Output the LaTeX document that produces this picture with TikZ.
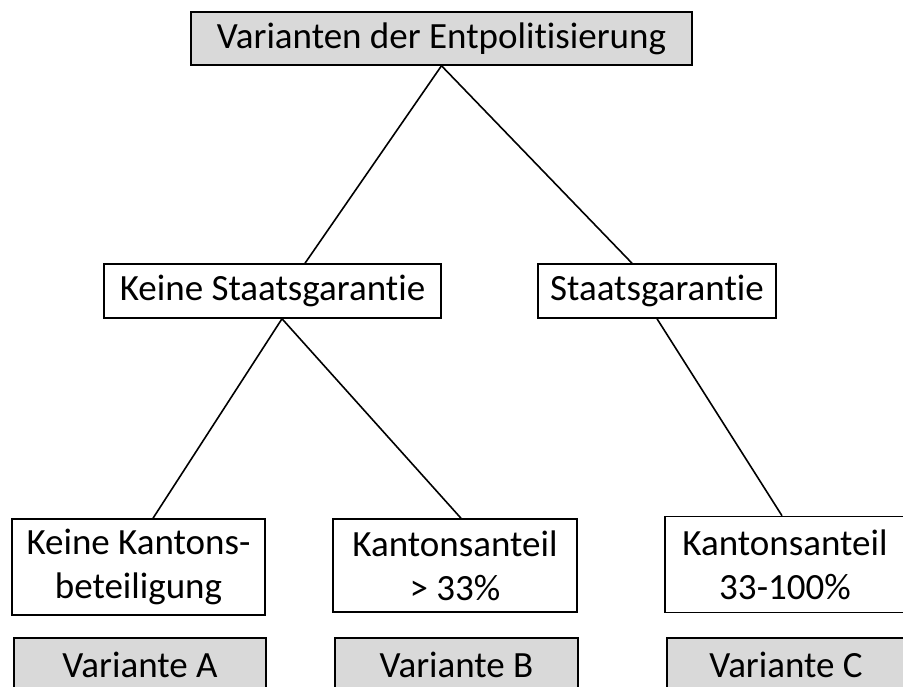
\documentclass[tikz,border=0pt]{standalone}
\usepackage{fontspec}
\setmainfont[Ligatures={NoCommon,NoRare,NoDiscretionary}]{Carlito}
\definecolor{boxgray}{HTML}{D9D9D9}
\begin{document}
\begin{tikzpicture}[x=1pt,y=1pt,
  box/.style={draw=black,line width=1.5pt,inner sep=0pt,align=center,
    font=\fontsize{37}{44}\selectfont},
  graybox/.style={box,fill=boxgray},
  conn/.style={line width=1.6pt}]
\clip (0,0) rectangle (903,-686);
\node[graybox,minimum width=501pt,minimum height=53pt] (top) at (441.5,-38.5) {Varianten der Entpolitisierung};
\node[box,minimum width=337pt,minimum height=54pt] (ks) at (272.5,-291) {Keine Staatsgarantie};
\node[box,minimum width=238pt,minimum height=54pt] (sg) at (657,-291) {Staatsgarantie};
\node[box,minimum width=253pt,minimum height=96pt] (b1) at (138.5,-567) {Keine Kantons-\\beteiligung};
\node[box,minimum width=244pt,minimum height=93pt] (b2) at (455,-565.5) {Kantonsanteil\\> 33\%};
\node[box,minimum width=240pt,minimum height=96pt] (b3) at (785,-564.5) {Kantonsanteil\\33-100\%};
\node[graybox,minimum width=252pt,minimum height=54pt] (vA) at (140,-665) {Variante A};
\node[graybox,minimum width=243pt,minimum height=54pt] (vB) at (456.5,-665) {Variante B};
\node[graybox,minimum width=238pt,minimum height=54pt] (vC) at (786,-665) {Variante C};
\draw[conn] (top.south) -- ([xshift=32.5pt]ks.north);
\draw[conn] (top.south) -- ([xshift=-25pt]sg.north);
\draw[conn] ([xshift=9.5pt]ks.south) -- ([xshift=14.5pt]b1.north);
\draw[conn] ([xshift=9.5pt]ks.south) -- ([xshift=6pt]b2.north);
\draw[conn] (sg.south) -- ([xshift=-3pt]b3.north);
\end{tikzpicture}
\end{document}
